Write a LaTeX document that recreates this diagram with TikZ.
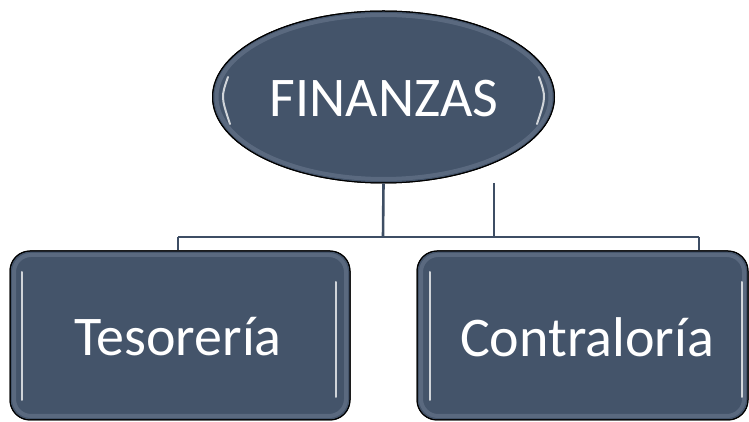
\documentclass[tikz,border=0pt]{standalone}
\usepackage{fontspec}
\setmainfont{Carlito}
\usetikzlibrary{shapes.geometric}
\definecolor{slate}{RGB}{68,84,106}
\definecolor{slatelight}{RGB}{105,120,142}
\definecolor{linecol}{RGB}{62,78,100}
\tikzset{
  x=1pt,y=1pt,
  orgbox/.style={rectangle, rounded corners=20pt, fill=slate, draw=black, line width=1pt,
    inner sep=0pt},
  orgell/.style={ellipse, fill=slate, draw=black, line width=1pt, inner sep=0pt},
  lbl/.style={text=white, font=\fontsize{56}{64}\selectfont, inner sep=0pt},
  conn/.style={draw=linecol, line width=2.6pt},
  gloss/.style={draw=white, line width=2pt, opacity=0.75, line cap=round},
  bevel/.style={draw=slatelight, line width=4pt, opacity=0.6}
}
\begin{document}
\begin{tikzpicture}
\useasboundingbox (0,0) rectangle (749,422);
\node[orgell, minimum width=342, minimum height=172] (fin) at (383.5,325) {};
\node[orgbox, minimum width=340, minimum height=169] (tes) at (180,86.5) {};
\node[orgbox, minimum width=331, minimum height=169] (con) at (582.5,86.5) {};
% inner bevel
\draw[bevel] (383.5,325) ellipse [x radius=167, y radius=82];
\draw[bevel, rounded corners=17pt] (14,6) rectangle (346,167);
\draw[bevel, rounded corners=17pt] (421,6) rectangle (744,167);
% gloss highlights
\draw[gloss] (228,345) .. controls (221,325) .. (230,298);
\draw[gloss] (539,345) .. controls (546,325) .. (537,298);
\draw[gloss] (22,150) -- (22,22);
\draw[gloss] (336,140) -- (336,25);
\draw[gloss] (430,150) -- (430,22);
\draw[gloss] (742,140) -- (742,25);
% outlines on top
\draw[black, line width=1pt] (383.5,325) ellipse [x radius=171, y radius=86];
\draw[black, line width=1pt, rounded corners=20pt] (10,2) rectangle (350,171);
\draw[black, line width=1pt, rounded corners=20pt] (417,2) rectangle (748,171);
% texts
\node[lbl] (fint) at (384,323) {FINANZAS};
\node[lbl] (test) at (178,85) {Tesorería};
\node[lbl] (cont) at (587,85) {Contraloría};
% connectors
\coordinate (hl) at (178,185);
\coordinate (hr) at (699,185);
\coordinate (hm) at (383,185);
\coordinate (vtop) at (494,239);
\coordinate (vbot) at (494,185);
\draw[conn] (fin.south) -- (hm);
\draw[conn] (vtop) -- (vbot);
\draw[conn] (hl) -- (hr);
\draw[conn] (hl) -- (hl |- tes.north);
\draw[conn] (hr) -- (hr |- con.north);
\end{tikzpicture}
\end{document}
